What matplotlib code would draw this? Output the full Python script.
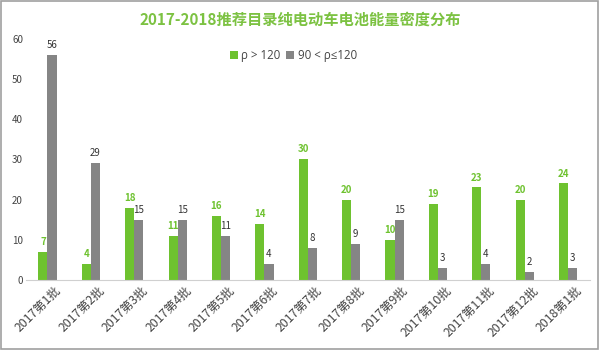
import matplotlib
matplotlib.use("Agg")
import matplotlib.pyplot as plt
import matplotlib.transforms as mtransforms
import numpy as np
from matplotlib.patches import Rectangle

plt.rcParams['font.family'] = ['Noto Sans CJK SC', 'DejaVu Sans']

categories = ["2017第1批", "2017第2批", "2017第3批", "2017第4批", "2017第5批",
              "2017第6批", "2017第7批", "2017第8批", "2017第9批", "2017第10批",
              "2017第11批", "2017第12批", "2018第1批"]
high_density = [7, 4, 18, 11, 16, 14, 30, 20, 10, 19, 23, 20, 24]
mid_density = [56, 29, 15, 15, 11, 4, 8, 9, 15, 3, 4, 2, 3]
yticks = [0, 10, 20, 30, 40, 50, 60]

GREEN = "#6ec22f"
GRAY = "#858585"

fig = plt.figure(figsize=(6, 3.5), dpi=100)
ax = fig.add_axes([0.043, 0.2, 0.94, 0.69])

x = np.arange(len(categories))
w = 0.21
b1 = ax.bar(x - w / 2, high_density, w, color=GREEN, label="ρ > 120")
b2 = ax.bar(x + w / 2, mid_density, w, color=GRAY, label="90 < ρ≤120")

for rect, v in zip(b1, high_density):
    ax.text(rect.get_x() + rect.get_width() / 2, v + 1.2, str(v), ha="center",
            va="bottom", fontsize=7, color=GREEN, fontweight="bold")
for rect, v in zip(b2, mid_density):
    ax.text(rect.get_x() + rect.get_width() / 2, v + 1.2, str(v), ha="center",
            va="bottom", fontsize=7, color="#333333")

ax.set_xlim(-0.5, len(categories) - 0.5)
ax.set_ylim(0, 60)
ax.set_yticks(yticks)
ax.tick_params(axis="y", length=0, labelsize=7, labelcolor="#444444", pad=2)
ax.tick_params(axis="x", length=0, labelsize=8.8, labelcolor="#444444", pad=3)
ax.set_xticks(x)
ax.set_xticklabels(categories, rotation=45, ha="right", rotation_mode="anchor")
shift = mtransforms.ScaledTranslation(7 / 100, 0, fig.dpi_scale_trans)
for lbl in ax.get_xticklabels():
    lbl.set_transform(lbl.get_transform() + shift)
for s in ("top", "right", "left"):
    ax.spines[s].set_visible(False)
ax.spines["bottom"].set_color("#d0d0d0")

ax.legend(loc="upper center", bbox_to_anchor=(0.474, 1.0), ncol=2, frameon=False,
          prop={"family": ["Open Sans", "DejaVu Sans"], "size": 8.3},
          handlelength=0.7, handleheight=0.7, handletextpad=0.3,
          columnspacing=0.5, labelcolor="#444444")

fig.text(0.5, 0.945, "2017-2018推荐目录纯电动车电池能量密度分布", ha="center",
         va="center", fontsize=11, fontweight="bold", color="#7cc242")

fig.patches.append(Rectangle((0.002, 0.003), 0.995, 0.993, transform=fig.transFigure,
                             fill=False, edgecolor="#a0a0a0", linewidth=1.2))

fig.savefig("out.png", dpi=100)
